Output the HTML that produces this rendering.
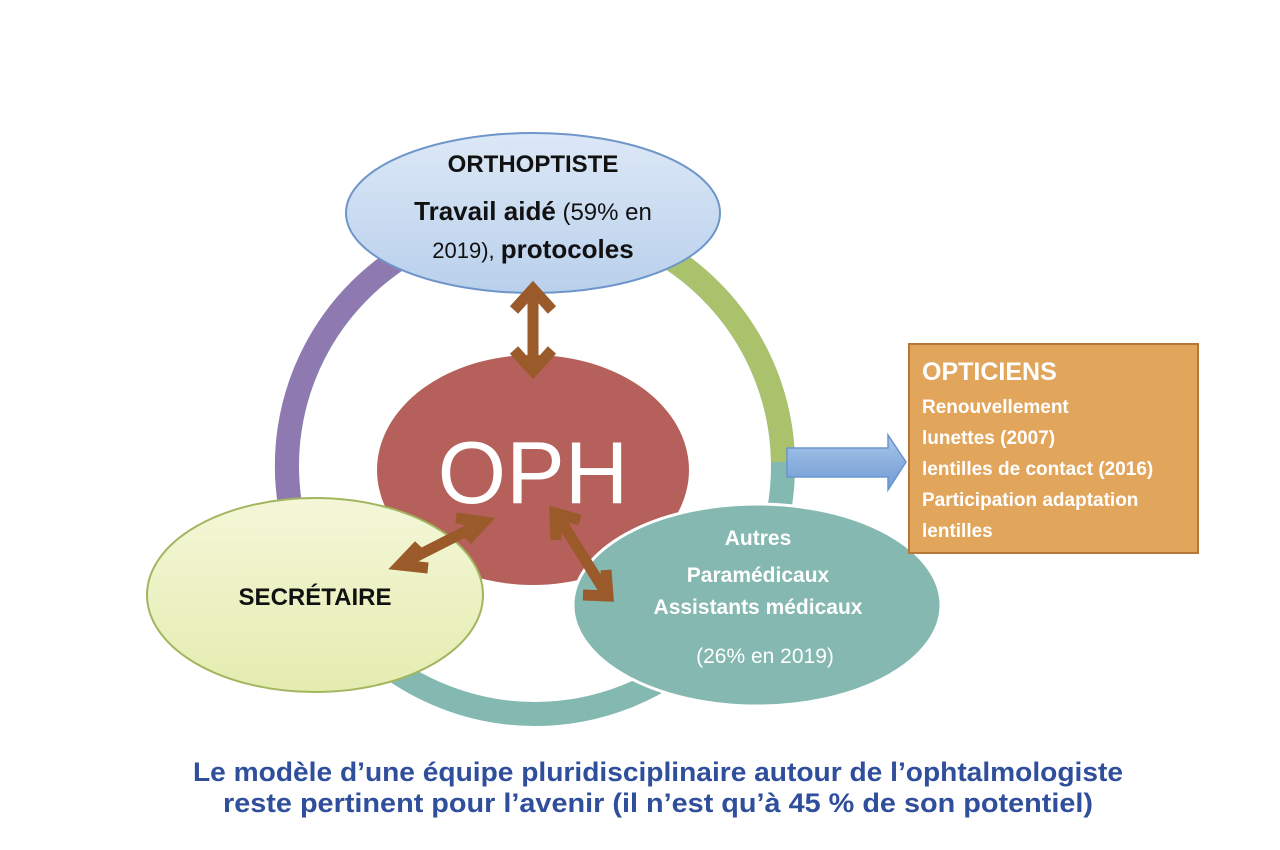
<!DOCTYPE html>
<html><head><meta charset="utf-8"><style>
html,body{margin:0;padding:0;background:#fff;}
svg{display:block;font-family:"Liberation Sans",sans-serif;}
</style></head><body>
<svg width="1280" height="850" viewBox="0 0 1280 850">
<defs>
<linearGradient id="gb" x1="0" y1="0" x2="0" y2="1"><stop offset="0" stop-color="#dce8f6"/><stop offset="1" stop-color="#b9d0ec"/></linearGradient>
<linearGradient id="gy" x1="0" y1="0" x2="0" y2="1"><stop offset="0" stop-color="#f4f7d8"/><stop offset="1" stop-color="#e4ecb0"/></linearGradient>
<linearGradient id="ga" x1="0" y1="0" x2="0" y2="1"><stop offset="0" stop-color="#a9c6ea"/><stop offset="1" stop-color="#6f9bd3"/></linearGradient>
</defs>
<circle cx="535" cy="466" r="248" fill="none" stroke="#84b9b1" stroke-width="24"/>
<path d="M 290 505 A 248 248 0 0 1 420 246" fill="none" stroke="#8e79b1" stroke-width="24"/>
<path d="M 650 246 A 248 248 0 0 1 783 462" fill="none" stroke="#abc26c" stroke-width="24"/>
<ellipse cx="533" cy="470" rx="156" ry="115" fill="#b5605a"/>
<text x="533" y="503" text-anchor="middle" font-size="88" fill="#fff">OPH</text>
<ellipse cx="533" cy="213" rx="187" ry="80" fill="url(#gb)" stroke="#6f96c9" stroke-width="2"/>
<text x="533" y="172" text-anchor="middle" font-size="24" font-weight="bold" fill="#111">ORTHOPTISTE</text>
<text x="533" y="220" text-anchor="middle" font-size="24" fill="#111"><tspan font-weight="bold" font-size="26">Travail aidé</tspan> (59% en</text>
<text x="533" y="258" text-anchor="middle" font-size="22" fill="#111">2019), <tspan font-weight="bold" font-size="26">protocoles</tspan></text>
<ellipse cx="315" cy="595" rx="168" ry="97" fill="url(#gy)" stroke="#a1b65e" stroke-width="2"/>
<text x="315" y="605" text-anchor="middle" font-size="24" font-weight="bold" fill="#111">SECRÉTAIRE</text>
<ellipse cx="757" cy="605" rx="184" ry="101" fill="#84b8b0" stroke="#fff" stroke-width="3"/>
<g fill="#fff" font-weight="bold" font-size="21" text-anchor="middle">
<text x="758" y="545">Autres</text>
<text x="758" y="582">Paramédicaux</text>
<text x="758" y="614">Assistants médicaux</text>
<text x="765" y="663" font-weight="normal" font-size="21">(26% en 2019)</text>
</g>
<g stroke="#9a5a2a" stroke-width="11" fill="none" stroke-linecap="butt" stroke-linejoin="miter">
<line x1="533" y1="292" x2="533" y2="370"/>
<polyline points="514,310 533,289 552,310"/>
<polyline points="514,350 533,371 552,350"/>
<line x1="405" y1="562" x2="478" y2="525"/>
<polyline points="419,545 400,565 428,568"/>
<polyline points="456,518 484,522 467,540"/>
<line x1="559" y1="518" x2="604" y2="590"/>
<polyline points="556,540 555,513 580,520"/>
<polyline points="583,595 608,596 606,570"/>
</g>
<polygon points="787,448 888,448 888,435 906,462 888,490 888,477 787,477" fill="url(#ga)" stroke="#6a95cc" stroke-width="1.5"/>
<rect x="909" y="344" width="289" height="209" fill="#e2a55c" stroke="#b57838" stroke-width="2"/>
<g fill="#fff" font-size="19" font-weight="bold">
<text x="922" y="380" font-size="25">OPTICIENS</text>
<text x="922" y="413">Renouvellement</text>
<text x="922" y="444">lunettes (2007)</text>
<text x="922" y="475">lentilles de contact (2016)</text>
<text x="922" y="506">Participation adaptation</text>
<text x="922" y="537">lentilles</text>
</g>
<g fill="#2f4e9b" font-weight="bold" font-size="27" text-anchor="middle">
<text x="658" y="781" textLength="930" lengthAdjust="spacingAndGlyphs">Le modèle d’une équipe pluridisciplinaire autour de l’ophtalmologiste</text>
<text x="658" y="812" textLength="870" lengthAdjust="spacingAndGlyphs">reste pertinent pour l’avenir (il n’est qu’à 45 % de son potentiel)</text>
</g>
</svg>
</body></html>
